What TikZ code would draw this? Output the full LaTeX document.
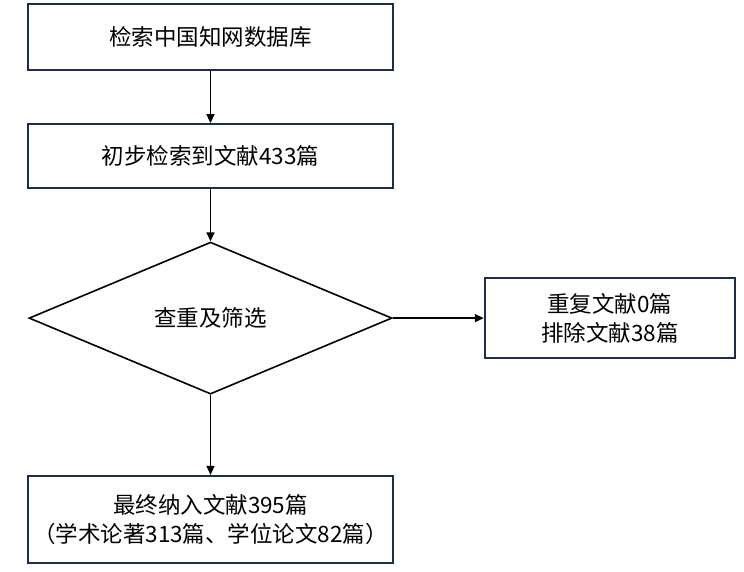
\documentclass[tikz,border=0pt]{standalone}
\usepackage{fontspec}
\setmainfont{Noto Sans CJK SC}
\usepackage{tikz}
\usetikzlibrary{positioning,shapes.geometric,arrows.meta}
\definecolor{boxblue}{RGB}{31,45,77}

\begin{document}
\begin{tikzpicture}[x=1pt,y=1pt,node distance={52pt}]
				\tikzstyle{b}=[rectangle, draw=boxblue, line width=2.2pt, minimum width=365pt, align=center]
				\tikzstyle{d}=[diamond, draw, line width=1.6pt, minimum width=363pt, minimum height=152pt, inner sep=0pt]
				\tikzstyle{a}=[-{Triangle[length=9pt,width=8pt]}, line width=1.5pt]

				\useasboundingbox (0,0) rectangle (744,-571);
				\fontsize{22.5}{29}\selectfont

				\node[b, minimum height=66pt] (db) at (210.5,-37) {检索中国知网数据库};
				\node[b, minimum height=64pt] (init) [below=of db] {初步检索到文献433篇};
				\node[d] (chk) [below=of init] {查重及筛选};
				\node[b, minimum width=250pt, minimum height=80pt] (excl) [right=91pt of chk] {重复文献0篇\\排除文献38篇};
				\node[b, minimum height=87pt, inner xsep=2pt] (final) [below=80pt of chk] {最终纳入文献395篇\\（学术论著313篇、学位论文82篇）};

				\foreach \from/\to in {db/init,init/chk,chk/excl,chk/final}
				\draw [a] (\from) -- (\to);
			\end{tikzpicture}
\end{document}
